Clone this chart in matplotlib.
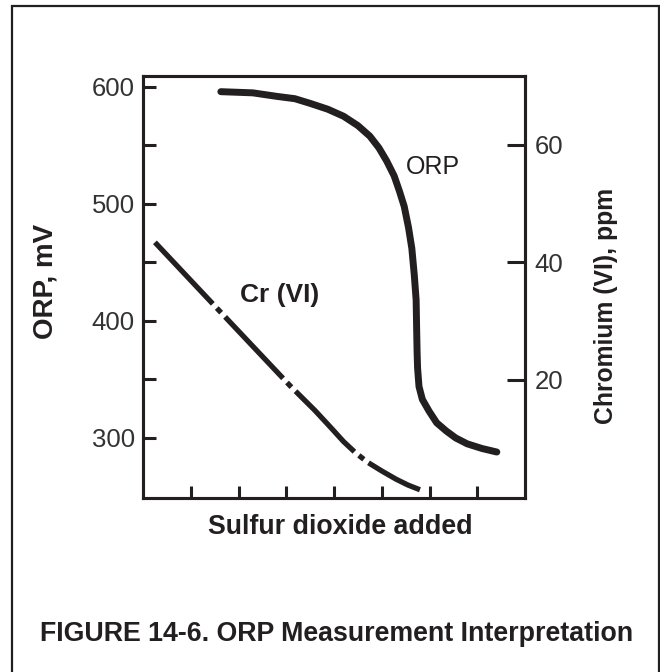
import matplotlib
matplotlib.use("Agg")
import matplotlib.pyplot as plt
from matplotlib.patches import Rectangle

plt.rcParams['font.family'] = ['Liberation Sans', 'DejaVu Sans']

# ORP curve (left axis, mV) vs sulfur dioxide added (arbitrary units)
orp_x = [1.63, 2.30, 2.80, 3.18, 3.50, 3.87, 4.20, 4.50, 4.75, 4.94, 5.10, 5.26,
         5.37, 5.47, 5.56, 5.63, 5.68, 5.72, 5.73, 5.74, 5.75, 5.78, 5.85, 5.99,
         6.15, 6.35, 6.55, 6.79, 7.10, 7.41]
orp_mv = [596, 595, 592, 590, 586, 581, 575, 567, 558, 548, 537, 524,
          511, 498, 480, 462, 440, 418, 395, 374, 360, 344, 333, 323,
          313, 306, 300, 295, 291, 288]

# Cr (VI) curve (right axis, ppm)
cr_x = [0.25, 1.57, 3.08, 3.60, 3.92, 4.20, 4.45, 4.70, 5.00, 5.30, 5.55, 5.80]
cr_ppm = [43.4, 32.0, 19.0, 14.8, 12.0, 9.5, 7.6, 6.0, 4.5, 3.1, 2.1, 1.3]

x_ticks = [1, 2, 3, 4, 5, 6, 7]
orp_ticks = [300, 400, 500, 600]
orp_minor = [350, 450, 550]
cr_ticks = [20, 40, 60]

ink = '#231f20'

fig = plt.figure(figsize=(6.6, 6.72), dpi=100)
fig.patches.append(Rectangle((12/660, -0.1), (659-12)/660, 1.1 - 6/672,
                             transform=fig.transFigure, fill=False,
                             edgecolor=ink, linewidth=1.6))

ax = fig.add_axes([143/660, 1-498/672, (525-143)/660, (498-76)/672])
ax2 = ax.twinx()

ax.plot(orp_x, orp_mv, color=ink, lw=5, solid_capstyle='round',
        solid_joinstyle='round')
ax2.plot(cr_x, cr_ppm, color=ink, lw=3.8, linestyle=(0, (16, 1.1, 1.2, 1.1)),
         dash_capstyle='butt', dash_joinstyle='round')

ax.set_xlim(0, 8)
ax.set_ylim(248.7, 609.4)
ax2.set_ylim(-0.1, 71.7)

ax.set_xticks(x_ticks)
ax.set_xticklabels([])
ax.set_yticks(orp_ticks)
ax.set_yticks(orp_minor, minor=True)
ax2.set_yticks(cr_ticks)

ax.tick_params(axis='x', direction='in', length=9, width=2.2, color=ink)
ax.tick_params(axis='y', which='both', direction='in', length=9.5, width=2.2,
               color=ink, labelsize=18.5, labelcolor='#333333', pad=6)
ax2.tick_params(axis='y', direction='in', length=13, width=2.2, color=ink,
                labelsize=18.5, labelcolor='#333333', pad=7)

for a in (ax, ax2):
    for s in a.spines.values():
        s.set_linewidth(2.2)
        s.set_color(ink)

ax.set_ylabel('ORP, mV', fontsize=20, fontweight='bold', color=ink, va='center')
ax.yaxis.set_label_coords(-0.254, 0.514)
ax2.set_ylabel('Chromium (VI), ppm', fontsize=17.8, fontweight='bold', color=ink,
               va='center', rotation=90)
ax2.yaxis.set_label_coords(1.212, 0.455)
ax.set_xlabel('Sulfur dioxide added', fontsize=19.3, fontweight='bold', color=ink,
              va='center')
ax.xaxis.set_label_coords(0.516, -0.069)

ax.text(6.07, 532, 'ORP', fontsize=18, color=ink, ha='center', va='center')
ax.text(2.87, 422, 'Cr (VI)', fontsize=19, fontweight='bold', color=ink,
        ha='center', va='center')

fig.text(337/660, 1-634/672, 'FIGURE 14-6. ORP Measurement Interpretation',
         fontsize=19.3, fontweight='bold', color=ink, ha='center', va='center')

fig.savefig('out.png', dpi=100)
